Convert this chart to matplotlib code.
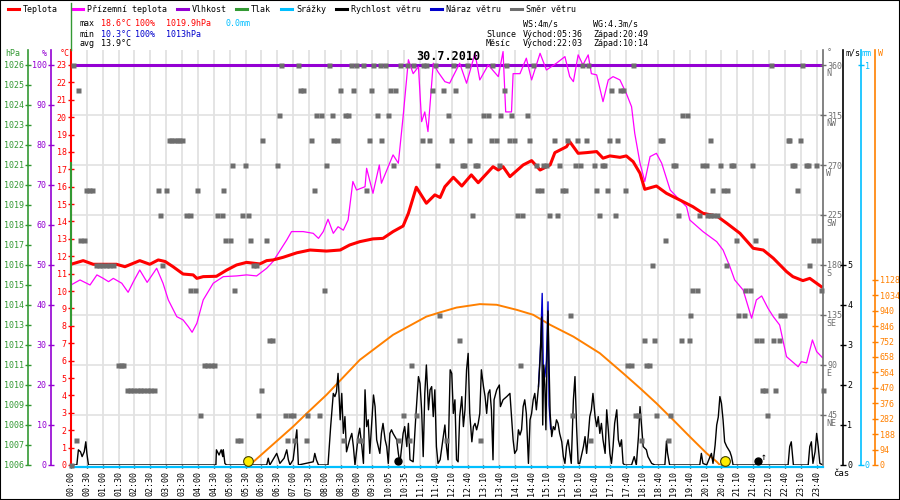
import matplotlib
matplotlib.use("Agg")
import matplotlib.pyplot as plt
from matplotlib.lines import Line2D
from matplotlib.patches import Rectangle
from matplotlib import transforms

plt.rcParams["font.family"] = ["DejaVu Sans Mono", "DejaVu Sans"]
plt.rcParams["font.size"] = 6

# x axis = position on the sample axis in minutes (one label every 30 min)
tick_labels = ["00:00", "00:30", "01:00", "01:30", "02:00", "02:30", "03:00", "03:30",
               "04:00", "04:30", "05:00", "05:30", "06:00", "06:30", "07:00", "07:30",
               "08:00", "08:30", "09:00", "09:30", "10:05", "10:35", "11:10", "11:40",
               "12:10", "12:40", "13:10", "13:40", "14:10", "14:40", "15:10", "15:40",
               "16:10", "16:40", "17:10", "17:40", "18:10", "18:40", "19:10", "19:40",
               "20:10", "20:40", "21:10", "21:40", "22:10", "22:40", "23:10", "23:40"]

# temperature (deg C)
temp_t = [0, 23, 42, 86, 102, 130, 149, 165, 178, 193,
          212, 231, 238, 250, 275, 294, 313, 332, 357, 370,
          382, 401, 427, 452, 483, 509, 527, 546, 571, 590,
          609, 628, 638, 653, 672, 688, 698, 707, 723, 739,
          757, 770, 798, 808, 817, 830, 855, 871, 887, 906,
          915, 937, 943, 959, 975, 994, 1006, 1019, 1038, 1050,
          1063, 1076, 1085, 1107, 1126, 1151, 1176, 1195, 1221, 1240,
          1265, 1290, 1309, 1328, 1353, 1365, 1384, 1397, 1419]
temp_v = [11.54, 11.75, 11.54, 11.54, 11.4, 11.75, 11.54, 11.79, 11.7, 11.4,
          10.98, 10.93, 10.73, 10.83, 10.85, 11.2, 11.5, 11.65, 11.56, 11.75,
          11.79, 11.94, 12.2, 12.36, 12.3, 12.36, 12.65, 12.84, 13.0, 13.03,
          13.42, 13.74, 14.47, 15.97, 15.05, 15.53, 15.38, 16.0, 16.54, 16.04,
          16.68, 16.23, 17.15, 16.96, 17.15, 16.58, 17.25, 17.5, 16.96, 17.25,
          17.96, 18.3, 18.59, 17.92, 17.96, 18.02, 17.64, 17.77, 17.69, 17.77,
          17.44, 16.77, 15.85, 16.04, 15.62, 15.24, 14.85, 14.47, 14.32, 13.9,
          13.32, 12.46, 12.36, 11.89, 11.12, 10.83, 10.6, 10.73, 10.25]

# apparent temperature (deg C)
feel_t = [0, 17, 36, 49, 61, 71, 80, 96, 108, 118,
          130, 144, 162, 174, 184, 200, 212, 222, 229, 238,
          250, 269, 288, 313, 332, 351, 370, 382, 408, 417,
          439, 458, 468, 477, 486, 496, 505, 515, 524, 533,
          540, 556, 559, 571, 583, 587, 609, 619, 628, 638,
          647, 657, 663, 669, 675, 685, 694, 707, 716, 735,
          748, 764, 773, 789, 808, 817, 822, 833, 836, 849,
          861, 871, 887, 899, 918, 934, 943, 950, 959, 968,
          978, 984, 994, 1006, 1016, 1025, 1038, 1050, 1060, 1066,
          1076, 1085, 1095, 1107, 1117, 1133, 1145, 1164, 1170, 1195,
          1221, 1233, 1246, 1255, 1271, 1287, 1296, 1306, 1318, 1328,
          1340, 1353, 1375, 1381, 1391, 1402, 1410, 1421]
feel_v = [10.35, 10.64, 10.35, 10.93, 10.73, 10.54, 10.73, 10.45, 9.93, 10.54,
          11.21, 10.5, 11.31, 10.45, 9.49, 8.53, 8.34, 7.95, 7.63, 8.15,
          9.49, 10.45, 10.83, 10.87, 10.93, 10.87, 11.31, 11.7, 12.94, 13.42,
          13.42, 13.32, 13.03, 13.42, 14.13, 13.32, 13.7, 13.5, 14.09, 16.3,
          15.81, 16.0, 17.06, 15.62, 17.25, 16.2, 17.83, 17.35, 20.03, 23.3,
          22.5, 22.9, 19.74, 20.3, 19.17, 23.1, 22.6, 22.04, 21.95, 23.1,
          21.95, 23.67, 22.14, 23.0, 22.33, 23.77, 20.3, 20.3, 22.5, 22.5,
          23.39, 22.14, 23.67, 22.71, 23.1, 23.48, 22.33, 22.04, 23.58, 23.0,
          23.58, 22.5, 22.43, 20.89, 22.14, 22.33, 22.14, 21.37, 20.6, 19.07,
          17.35, 16.3, 17.73, 17.92, 17.35, 15.81, 15.43, 14.85, 14.09, 13.42,
          12.84, 12.36, 11.4, 10.64, 10.06, 8.44, 9.49, 9.72, 9.01, 8.53,
          8.05, 6.23, 5.65, 5.94, 5.87, 7.19, 6.52, 6.17]

# wind speed (m/s)
wind_t = [0, 11, 14, 18, 21, 25, 28, 30, 33,
          274, 275, 280, 284, 287, 288, 291, 294,
          370, 373, 376, 389, 392, 395, 403, 408, 411, 414,
          420, 427, 430, 458, 461, 464, 468, 486,
          491, 496, 499, 502, 505, 509, 512, 515, 518, 521,
          527, 531, 534, 537, 543, 546, 550, 553, 556, 559,
          562, 565, 572, 575, 578, 581, 584, 587, 590, 594,
          597, 600, 603, 606, 609, 616, 619, 622, 628, 631,
          635, 638, 641, 647, 652, 657, 660, 663, 666, 669,
          672, 676, 679, 682, 685, 688, 691, 694, 698, 704,
          707, 710, 713, 717, 720, 723, 726, 729, 732, 735,
          739, 742, 745, 748, 751, 754, 758, 761, 764, 767,
          770, 773, 776, 780, 783, 786, 789, 792, 795, 798,
          800, 805, 810, 812, 817, 824, 830, 833, 836, 839,
          843, 846, 849, 852, 855, 858, 861, 865, 868, 871,
          874, 877, 880, 884, 887, 890, 892, 894, 896, 898,
          900, 902, 904, 906, 909, 912, 915, 918, 921, 924,
          928, 931, 934, 937, 940, 946, 950, 953, 956, 959,
          962, 969, 972, 975, 978, 981, 984, 987, 991, 994,
          997, 1000, 1003, 1006, 1010, 1013, 1016, 1019, 1022, 1025,
          1028, 1032, 1035, 1038, 1041, 1044, 1047, 1060, 1065, 1069,
          1073, 1076, 1079, 1082, 1088, 1091, 1098, 1104, 1123, 1126,
          1128, 1132, 1189, 1192, 1195, 1202, 1211, 1214, 1218, 1221,
          1224, 1227, 1230, 1233, 1236, 1240, 1246, 1249, 1252, 1356,
          1359, 1362, 1366, 1394, 1397, 1400, 1403, 1407, 1410, 1413,
          1416, 1422]
wind_v = [0, 0, 0.38, 0.33, 0.21, 0.33, 0.58, 0.29, 0,
          0, 0.38, 0.25, 0.38, 0.21, 0.38, 0.04, 0,
          0, 0.17, 0, 0.29, 0.17, 0.04, 0.17, 0.38, 0.13, 0,
          0.13, 0.88, 0, 0.08, 0.29, 0.13, 0, 0,
          0.96, 1.79, 1.71, 1.83, 2.29, 1.13, 1.79, 0.79, 1.21, 0.33,
          0.63, 0.79, 0.46, 0, 0.71, 0.92, 0.46, 0.04, 1.88, 0.96,
          1.13, 0.29, 1.75, 1.46, 0.63, 0.46, 0.29, 0.79, 1.04, 0.63,
          0.46, 0.04, 0.79, 0.88, 0.79, 0.63, 0.29, 0.04, 0.79, 0.96,
          0.46, 1.04, 0.13, 0.08, 1.21, 2.21, 2.04, 1.38, 0.21, 1.79,
          2.5, 1.38, 1.88, 1.96, 1.21, 1.88, 0.46, 0.04, 0.13, 0.71,
          1.0, 0.46, 0.13, 2.38, 2.29, 1.29, 1.63, 0.13, 0.08, 1.21,
          1.71, 0.96, 1.38, 2.38, 2.79, 1.29, 0.58, 0.96, 1.04, 0.88,
          1.04, 1.29, 2.38, 1.96, 1.71, 1.29, 1.79, 1.88, 1.38, 0.13,
          1.63, 1.88, 2.0, 1.46, 1.63, 1.71, 1.79, 1.21, 0.63, 0.29,
          0.38, 0.88, 0.75, 0.88, 1.46, 1.63, 1.29, 0.04, 1.13, 1.29,
          1.63, 1.79, 1.38, 1.96, 2.63, 3.7, 1.0, 2.5, 2.0, 0.88,
          2.5, 3.85, 2.5, 1.3, 0.71, 0.96, 0.88, 1.13, 1.04, 0.79,
          0.58, 0.21, 0.04, 0.46, 0.63, 0.04, 1.63, 2.21, 0.96, 0.04,
          0.04, 0.46, 0.71, 0.29, 0.71, 1.21, 1.38, 1.79, 1.21, 0.96,
          1.21, 0.79, 1.04, 0.63, 0.29, 1.38, 0.88, 0.29, 0.04, 0.46,
          1.04, 1.38, 0.63, 0.46, 0.63, 0.04, 0, 0, 0.21, 0,
          0.71, 1.46, 0.96, 0.46, 0.38, 0.21, 0.04, 0, 0, 0.6,
          0.3, 0, 0, 0.29, 0.04, 0, 0.29, 0.04, 0.5, 1.0,
          1.2, 1.71, 1.54, 1.13, 0.58, 0.46, 0.33, 0.21, 0, 0,
          0.46, 0.58, 0, 0, 0.46, 0.58, 0.04, 0.33, 0.79, 0.46,
          0.04, 0]

# wind gust (m/s), only where it shows above the wind speed
gust_t = [884, 888, 891, 893, 896, 899, 902, 904, 907]
gust_v = [1.96, 3.0, 4.29, 2.5, 2.2, 2.6, 4.08, 1.5, 0.9]

# solar radiation (W/m2)
solar_t = [338, 420, 446, 483, 546, 609, 672, 697, 729, 773, 805, 843,
           874, 906, 950, 1000, 1044, 1076, 1107, 1139, 1170, 1202, 1221, 1227]
solar_w = [0, 234, 315, 427, 640, 793, 904, 929, 959, 980, 976, 945,
           915, 854, 782, 681, 559, 468, 376, 274, 173, 71, 20, 0]

humidity_t = [0, 1422]
humidity_v = [100, 100]
rain_t = [0, 1422]
rain_v = [0.0, 0.0]
pressure_t = [0, 0]
pressure_v = [1013.0, 1021.1]

sun_events = [334, 1237]     # sunrise, sunset
moon_events = [619, 1299]    # moonset, moonrise
moon_rise = 1299

# wind direction samples, grouped by compass direction
dir_000 = [0]
dir_022 = [9, 313, 319, 408, 422, 444, 514, 542, 548, 618, 639, 709, 773, 982, 1078, 1128]
dir_045 = [244, 354, 405, 414, 419, 447, 469, 627, 652, 948, 1066, 1073, 1107, 1132, 1317]
dir_067 = [105, 111, 118, 124, 131, 137, 144, 150, 157, 359, 1306, 1312, 1332, 1422]
dir_090 = [88, 94, 98, 252, 258, 265, 271, 642, 849, 1052, 1059, 1087, 1093]
dir_112 = [375, 381, 733, 1083, 1102, 1153, 1168, 1295, 1304, 1327, 1338]
dir_135 = [696, 943, 1171, 1262, 1272, 1340, 1348]
dir_157 = [225, 234, 308, 478, 1175, 1184, 1274, 1284, 1418]
dir_180 = [47, 53, 59, 66, 72, 79, 173, 345, 350, 1098, 1238, 1396]
dir_202 = [17, 25, 292, 301, 338, 369, 1123, 1257, 1293, 1403, 1412]
dir_225 = [168, 217, 225, 277, 286, 323, 334, 759, 843, 852, 904, 919, 998, 1028,
           1147, 1187, 1202, 1208, 1214, 1221]
dir_247 = [29, 34, 39, 164, 179, 238, 288, 459, 558, 882, 888, 928, 934, 992, 1013,
           1047, 1213, 1232, 1241, 1372]
dir_270 = [304, 329, 389, 483, 609, 693, 740, 743, 764, 767, 810, 880, 893, 899, 923,
           953, 962, 989, 1004, 1008, 1139, 1143, 1193, 1200, 1227, 1248, 1252, 1287,
           1364, 1367, 1389, 1394, 1408]
dir_292 = [185, 190, 195, 200, 205, 210, 362, 453, 496, 503, 563, 587, 663, 677, 718,
           752, 794, 803, 828, 837, 866, 913, 937, 956, 974, 1017, 1032, 1113, 1118,
           1208, 1355, 1358, 1378]
dir_315 = [393, 463, 473, 493, 518, 524, 578, 600, 712, 779, 789, 812, 832, 863, 1156, 1164]
dir_337 = [13, 433, 439, 509, 533, 568, 603, 612, 682, 703, 727, 819, 1022, 1038, 1043]
dir_360 = [3, 398, 429, 487, 529, 539, 553, 571, 584, 594, 622, 635, 647, 666, 672, 688,
           723, 748, 797, 822, 873, 967, 977, 1062, 1323, 1382]

dir_groups = [(0, dir_000), (22.5, dir_022), (45, dir_045), (67.5, dir_067),
              (90, dir_090), (112.5, dir_112), (135, dir_135), (157.5, dir_157),
              (180, dir_180), (202.5, dir_202), (225, dir_225), (247.5, dir_247),
              (270, dir_270), (292.5, dir_292), (315, dir_315), (337.5, dir_337),
              (360, dir_360)]

RED = "#ff0000"
MAGENTA = "#ff00ff"
PURPLE = "#9400d3"
GREEN = "#339933"
CYAN = "#00bfff"
BLACK = "#000000"
BLUE = "#0000cc"
GRAY = "#6e6e6e"
ORANGE = "#ff8000"
GRID = "#e2e2e2"

fig = plt.figure(figsize=(9, 5), dpi=100)
ax = fig.add_axes([71 / 900, 35 / 500, 752 / 900, 415 / 500])
ax.set_xlim(0, 1422)
ax.set_ylim(0, 23.86)


def side_axis(side, pos, color, ylim, ticks, labels):
    a = ax.twinx()
    a.set_ylim(*ylim)
    for s in a.spines.values():
        s.set_visible(False)
    sp = a.spines[side]
    sp.set_visible(True)
    sp.set_position(("axes", pos))
    sp.set_color(color)
    sp.set_linewidth(1.2)
    a.yaxis.set_ticks_position(side)
    a.set_yticks(ticks)
    a.set_yticklabels(labels)
    a.tick_params(axis="y", colors=color, direction="inout", length=4, width=1,
                  pad=1, labelsize=6)
    return a


ax_hpa = side_axis("left", -43 / 752, GREEN, (1006, 1026.75),
                   range(1006, 1027), [str(v) for v in range(1006, 1027)])
ax_hum = side_axis("left", -20 / 752, PURPLE, (0, 103.75),
                   range(0, 101, 10), [str(v) for v in range(0, 101, 10)])
ax_dir = side_axis("right", 1.0, GRAY, (0, 373.5),
                   range(45, 361, 45), [str(v) for v in range(45, 361, 45)])
ax_ms = side_axis("right", 1 + 20 / 752, BLACK, (0, 10.375),
                  range(0, 6), [str(v) for v in range(0, 6)])
ax_mm = side_axis("right", 1 + 37.5 / 752, CYAN, (0, 1.0375), [0, 1], ["0", "1"])
ax_w = side_axis("right", 1 + 52.5 / 752, ORANGE, (0, 2528),
                 range(0, 1129, 94), [str(v) for v in range(0, 1129, 94)])

# main (deg C) axis
for s in ["top", "right", "bottom"]:
    ax.spines[s].set_visible(False)
ax.spines["left"].set_color(RED)
ax.spines["left"].set_linewidth(1.5)
ax.yaxis.set_ticks_position("left")
ax.set_yticks(range(0, 24))
ax.tick_params(axis="y", colors=RED, direction="inout", length=4, width=1, pad=1,
               labelsize=6)
ax.set_xticks(range(0, 1411, 30))
ax.set_xticklabels(tick_labels, rotation=90, fontsize=6)
ax.tick_params(axis="x", direction="out", length=2.5, width=1, pad=2, colors=BLACK)
ax.grid(axis="x", color=GRID, linewidth=1.3)
ax.set_axisbelow(True)

# horizontal grid at the wind direction ticks
for d in range(45, 361, 45):
    ax.plot([0, 1422], [d, d], color=GRID, lw=1.2, zorder=0.6,
            transform=ax_dir.transData)

# compass letters under the direction labels
for d, name in zip(range(45, 361, 45), ["NE", "E", "SE", "S", "SW", "W", "NW", "N"]):
    ax.annotate(name, xy=(1, d), xycoords=(ax.transAxes, ax_dir.transData),
                xytext=(2.3, -6), textcoords="offset points", ha="left", va="center",
                color=GRAY, fontsize=6, annotation_clip=False)

# data
ax.plot(humidity_t, humidity_v, color=PURPLE, lw=2.2, zorder=2,
        transform=ax_hum.transData)
ax.plot(solar_t, solar_w, color=ORANGE, lw=1.4, zorder=2.5, transform=ax_w.transData)
ax.plot(feel_t, feel_v, color=MAGENTA, lw=0.9, zorder=3)
ax.plot(temp_t, temp_v, color=RED, lw=2.2, zorder=3.5)
rain_tr = transforms.offset_copy(ax_mm.transData, fig=fig, y=-1.5, units="dots")
ax.plot(rain_t, rain_v, color=CYAN, lw=1.6, zorder=3.8, transform=rain_tr,
        clip_on=False)
ax.plot(gust_t, gust_v, color=BLUE, lw=1.0, zorder=4, transform=ax_ms.transData)
ax.plot(wind_t, wind_v, color=BLACK, lw=1.0, zorder=4.5, transform=ax_ms.transData)
ax.plot(pressure_t, pressure_v, color=GREEN, lw=1.5, zorder=5,
        transform=ax_hpa.transData, clip_on=False)

for deg, times in dir_groups:
    ax.plot(times, [deg] * len(times), "s", ms=3.6, color=GRAY, mec="none",
            zorder=5, transform=ax_dir.transData, clip_on=False)

up = transforms.offset_copy(ax.transData, fig=fig, y=4.5, units="dots")
ax.plot(sun_events, [0, 0], "o", ms=7, mfc="#ffee00", mec="#404000", mew=0.8,
        zorder=6, transform=up, clip_on=False)
ax.plot(moon_events, [0, 0], "o", ms=5, color=BLACK, zorder=6, transform=up,
        clip_on=False)
arrow_tr = transforms.offset_copy(ax.transData, fig=fig, x=6, y=3, units="dots")
ax.text(moon_rise, 0, "↑", transform=arrow_tr, ha="center", va="bottom",
        fontsize=7, zorder=6)

# title
fig.text(448 / 900, 1 - 57 / 500, "30.7.2010", ha="center", va="center",
         fontsize=8.5, fontweight="bold")

# axis unit labels
top_y = 1 - 53 / 500
fig.text(5 / 900, top_y, "hPa", color=GREEN, va="center", fontsize=6)
fig.text(42 / 900, top_y, "%", color=PURPLE, va="center", fontsize=6)
fig.text(60 / 900, top_y, "°C", color=RED, va="center", fontsize=6)
fig.text(827 / 900, top_y, "°", color=GRAY, va="center", fontsize=6)
fig.text(845 / 900, top_y, "m/s", color=BLACK, va="center", fontsize=6)
fig.text(862 / 900, top_y, "mm", color=CYAN, va="center", fontsize=6)
fig.text(878 / 900, top_y, "W", color=ORANGE, va="center", fontsize=6)
fig.text(833 / 900, 1 - 474 / 500, "čas", va="center", fontsize=6.5)

# legend
legend_items = [("Teplota", RED, 8), ("Přízemní teplota", MAGENTA, 72),
                ("Vlhkost", PURPLE, 177), ("Tlak", GREEN, 236),
                ("Srážky", CYAN, 281), ("Rychlost větru", BLACK, 336),
                ("Náraz větru", BLUE, 431), ("Směr větru", GRAY, 511)]
ly = 1 - 9 / 500
for name, col, x0 in legend_items:
    fig.add_artist(Line2D([x0 / 900, (x0 + 11) / 900], [ly, ly], color=col, lw=2.2,
                          transform=fig.transFigure))
    fig.text((x0 + 15) / 900, ly, name, va="center", fontsize=6)

# separator line above the left axis
fig.add_artist(Line2D([71 / 900, 71 / 900], [1 - 3 / 500, 1 - 50 / 500], color=GREEN,
                      lw=1, transform=fig.transFigure))

# statistics block
rows = [1 - 24 / 500, 1 - 34 / 500, 1 - 44 / 500]
stats = [("max", 80, 0, BLACK), ("18.6°C", 101, 0, RED), ("100%", 135, 0, RED),
         ("1019.9hPa", 166, 0, RED), ("0.0mm", 226, 0, CYAN),
         ("min", 80, 1, BLACK), ("10.3°C", 101, 1, BLUE), ("100%", 135, 1, BLUE),
         ("1013hPa", 166, 1, BLUE),
         ("avg", 80, 2, BLACK), ("13.9°C", 101, 2, BLACK),
         ("WS:4m/s", 523, 0, BLACK), ("WG:4.3m/s", 593, 0, BLACK),
         ("Slunce", 486, 1, BLACK), ("Východ:05:36", 523, 1, BLACK),
         ("Západ:20:49", 593, 1, BLACK),
         ("Měsíc", 486, 2, BLACK), ("Východ:22:03", 523, 2, BLACK),
         ("Západ:10:14", 593, 2, BLACK)]
for txt, x0, r, col in stats:
    fig.text(x0 / 900, rows[r], txt, color=col, va="center", fontsize=6)

fig.add_artist(Rectangle((0, 0), 1, 1, transform=fig.transFigure, fill=False,
                         ec="black", lw=1.5))

fig.savefig("out.png", dpi=100)
